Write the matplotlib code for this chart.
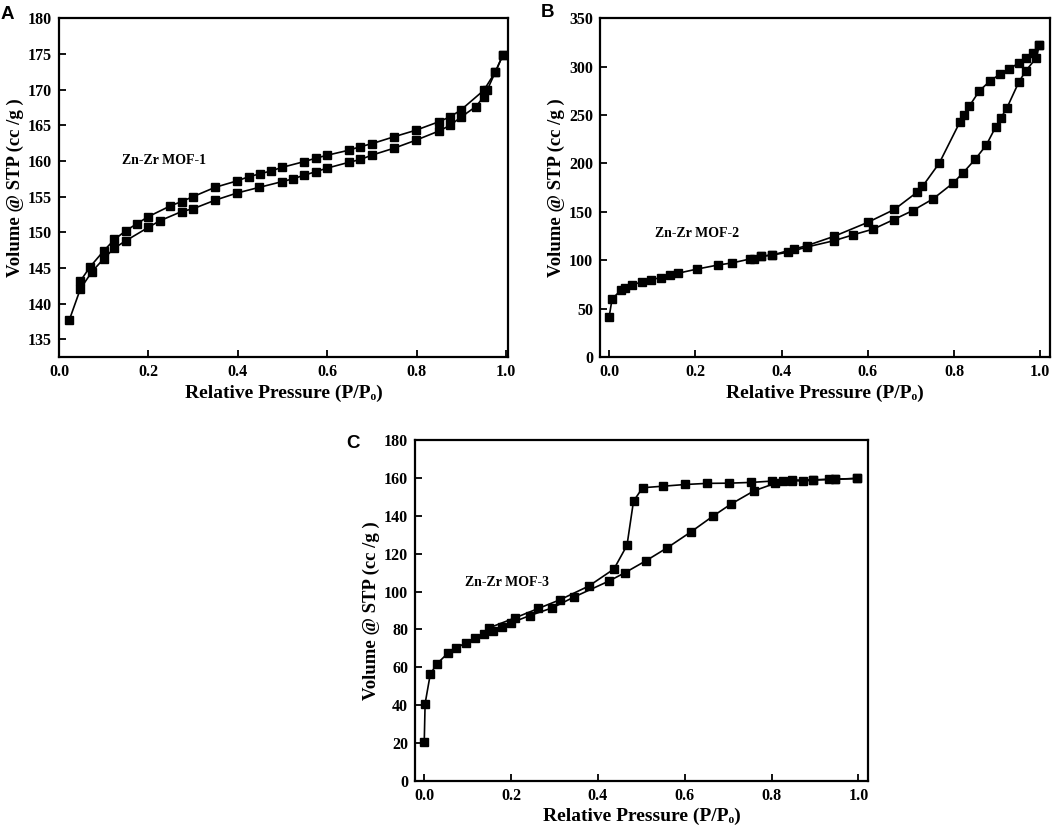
import numpy as np
import matplotlib
matplotlib.use('Agg')
import matplotlib.pyplot as plt

# ---- dane ----
# MOF-1 adsorpcja / desorpcja
a_ads_x = [0.023, 0.048, 0.074, 0.100, 0.124, 0.149, 0.200, 0.225, 0.274, 0.300, 0.349, 0.398,
           0.448, 0.499, 0.524, 0.548, 0.575, 0.600, 0.648, 0.674, 0.699, 0.750, 0.798, 0.850,
           0.875, 0.898, 0.932, 0.950, 0.958, 0.976, 0.993]
a_ads_y = [137.7, 142.1, 144.5, 146.3, 147.8, 148.8, 150.7, 151.6, 152.9, 153.3, 154.5, 155.5,
           156.3, 157.1, 157.5, 158.0, 158.5, 159.0, 159.8, 160.2, 160.8, 161.8, 162.9, 164.2,
           165.0, 166.1, 167.6, 169.0, 170.0, 172.5, 174.9]
a_des_x = [0.993, 0.976, 0.950, 0.898, 0.875, 0.850, 0.798, 0.750, 0.699, 0.674, 0.648, 0.600,
           0.575, 0.548, 0.499, 0.474, 0.450, 0.425, 0.398, 0.349, 0.300, 0.274, 0.249, 0.200,
           0.174, 0.149, 0.124, 0.100, 0.070, 0.048]
a_des_y = [174.9, 172.5, 169.9, 167.1, 166.2, 165.5, 164.3, 163.4, 162.4, 162.0, 161.5, 160.8,
           160.4, 159.9, 159.1, 158.6, 158.2, 157.8, 157.2, 156.3, 155.0, 154.3, 153.7, 152.2,
           151.2, 150.2, 149.0, 147.4, 145.2, 143.2]

# MOF-2
b_ads_x = [0.000, 0.007, 0.028, 0.036, 0.054, 0.077, 0.098, 0.120, 0.142, 0.159, 0.205, 0.253,
           0.285, 0.327, 0.352, 0.377, 0.415, 0.459, 0.522, 0.565, 0.613, 0.660, 0.704, 0.751,
           0.797, 0.820, 0.849, 0.875, 0.897, 0.909, 0.923, 0.950, 0.966, 0.991, 0.998]
b_ads_y = [41.3, 60.2, 69.4, 71.2, 74.6, 78.0, 80.1, 82.2, 84.9, 86.6, 91.1, 95.2,
           97.3, 101.4, 104.2, 105.5, 108.3, 113.8, 120.3, 126.2, 132.3, 142.0, 151.3, 163.3,
           179.4, 189.8, 204.2, 219.0, 237.9, 247.2, 257.5, 283.6, 295.3, 309.0, 322.4]
b_des_x = [0.998, 0.983, 0.966, 0.950, 0.927, 0.907, 0.884, 0.859, 0.836, 0.824, 0.814, 0.766,
           0.727, 0.714, 0.662, 0.600, 0.522, 0.459, 0.429, 0.379, 0.353, 0.335]
b_des_y = [322.4, 313.8, 308.4, 303.5, 297.4, 292.2, 285.3, 275.0, 259.5, 250.3, 243.0, 200.4,
           176.3, 170.2, 152.6, 139.2, 124.8, 115.2, 111.7, 105.5, 104.2, 101.4]

# MOF-3
c_ads_x = [0.000, 0.002, 0.014, 0.029, 0.054, 0.074, 0.096, 0.117, 0.137, 0.158, 0.178, 0.200,
           0.243, 0.295, 0.345, 0.425, 0.462, 0.511, 0.559, 0.615, 0.665, 0.706, 0.760, 0.808,
           0.826, 0.847, 0.873, 0.895, 0.933, 0.946, 0.996]
c_ads_y = [20.6, 40.9, 56.5, 61.8, 67.4, 70.1, 73.1, 75.4, 77.6, 79.4, 81.2, 83.5,
           87.3, 91.4, 97.1, 105.5, 109.9, 116.3, 123.0, 131.6, 139.8, 146.1, 153.2, 157.1,
           158.1, 158.6, 158.3, 158.8, 159.2, 159.2, 159.7]
c_des_x = [0.996, 0.946, 0.895, 0.847, 0.801, 0.753, 0.701, 0.652, 0.601, 0.550, 0.503, 0.482,
           0.467, 0.437, 0.379, 0.312, 0.263, 0.209, 0.149]
c_des_y = [159.7, 159.3, 159.0, 158.8, 158.3, 157.6, 157.2, 157.1, 156.5, 155.6, 154.8, 147.7,
           124.4, 111.9, 102.9, 95.6, 91.1, 86.1, 80.8]

nazwy = ['Zn-Zr MOF-1', 'Zn-Zr MOF-2', 'Zn-Zr MOF-3']
litery = ['A', 'B', 'C']

###############################################################################
serif = ['Liberation Serif', 'DejaVu Serif']
sans = ['Liberation Sans', 'DejaVu Sans']


def rysuj_panel(ax, dane, xlim, ylim, yticks, napis, poz_napisu):
    for (xs, ys) in dane:
        ax.plot(xs, ys, '-s', color='black', lw=1.2, ms=5.5)
    ax.set_xlim(*xlim)
    ax.set_ylim(*ylim)
    ax.set_xticks([0.0, 0.2, 0.4, 0.6, 0.8, 1.0])
    ax.set_xticklabels(['0.0', '0.2', '0.4', '0.6', '0.8', '1.0'])
    ax.set_yticks(yticks)
    ax.tick_params(direction='in', length=5, width=1.3, labelsize=11.5, pad=5)
    for lab in ax.get_xticklabels() + ax.get_yticklabels():
        lab.set_family(serif)
        lab.set_fontweight('bold')
    for s in ax.spines.values():
        s.set_linewidth(1.6)
    ax.set_xlabel('Relative Pressure (P/P\u2092)', family=serif, fontweight='bold', fontsize=14, labelpad=3)
    ax.set_ylabel('Volume @ STP (cc /g )', family=serif, fontweight='bold', fontsize=13.5, labelpad=3)
    ax.text(poz_napisu[0], poz_napisu[1], napis, family=serif, fontweight='bold', fontsize=10,
            va='center', ha='left')


fig = plt.figure(figsize=(10.59, 8.25), dpi=100)
axA = fig.add_axes([0.0557, 0.567, 0.424, 0.411])
axB = fig.add_axes([0.5666, 0.567, 0.425, 0.411])
axC = fig.add_axes([0.392, 0.0533, 0.428, 0.4134])

rysuj_panel(axA, [(a_ads_x, a_ads_y), (a_des_x, a_des_y)], (0.0, 1.004), (132.5, 180),
            np.arange(135, 181, 5), nazwy[0], (0.14, 160.1))
rysuj_panel(axB, [(b_ads_x, b_ads_y), (b_des_x, b_des_y)], (-0.021, 1.023), (0, 350),
            np.arange(0, 351, 50), nazwy[1], (0.107, 127.2))
rysuj_panel(axC, [(c_ads_x, c_ads_y), (c_des_x, c_des_y)], (-0.021, 1.023), (0, 180),
            np.arange(0, 181, 20), nazwy[2], (0.094, 104.6))

fig.text(0.0005, 0.993, litery[0], family=sans, fontweight='bold', fontsize=13.5, va='top')
fig.text(0.5105, 0.9955, litery[1], family=sans, fontweight='bold', fontsize=13.5, va='top')
fig.text(0.327, 0.4733, litery[2], family=sans, fontweight='bold', fontsize=13.5, va='top')

fig.savefig('out.png', dpi=100)
